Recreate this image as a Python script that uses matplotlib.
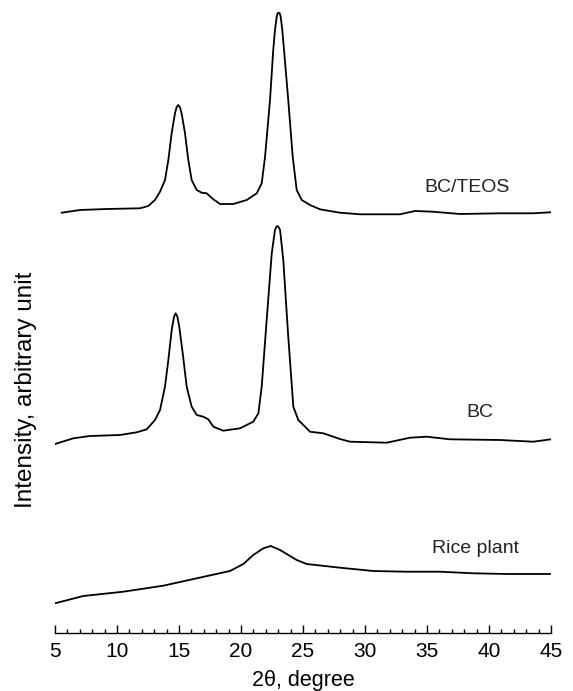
import matplotlib
matplotlib.use('Agg')
import matplotlib.pyplot as plt
from matplotlib.ticker import MultipleLocator

plt.rcParams['font.family'] = ['Liberation Sans', 'DejaVu Sans']

# --- XRD patterns (2theta in degrees, intensity in arbitrary units) ---
teos_2theta = [5.54, 7.02, 9.17, 11.85, 12.52, 13.06, 13.47, 13.87, 14.14, 14.41,
               14.68, 14.81, 14.94, 15.08, 15.22, 15.48, 15.75, 16.02, 16.43, 16.83,
               17.23, 17.77, 18.31, 19.38, 20.46, 21.27, 21.67, 21.94, 22.34, 22.60,
               22.74, 22.88, 22.96, 23.04, 23.12, 23.20, 23.33, 23.47, 23.81, 24.17,
               24.49, 24.90, 25.56, 26.37, 27.98, 29.60, 32.82, 34.03, 35.48, 37.66,
               40.89, 43.55, 44.95]
teos_int = [427.3, 430, 431, 431.7, 434, 440, 448.3, 460, 480, 507,
            527, 533, 535, 532.7, 526, 507, 480, 460, 450, 447.3,
            446.7, 440.7, 436, 436, 440, 446.7, 456.7, 483.3, 540, 590,
            610, 623.3, 626.7, 627.3, 626.7, 623.3, 610, 590, 540, 483.3,
            450, 440, 435, 430.7, 427.3, 425.7, 425.7, 429, 428.3, 426,
            426.7, 426.7, 427.7]

bc_2theta = [5.0, 6.48, 7.82, 10.24, 11.59, 12.40, 13.06, 13.47, 13.87, 14.14,
             14.41, 14.60, 14.73, 14.87, 15.02, 15.30, 15.62, 16.02, 16.43, 16.96,
             17.36, 17.77, 18.57, 19.92, 20.99, 21.40, 21.67, 22.07, 22.48, 22.74,
             22.84, 22.93, 23.03, 23.15, 23.41, 23.81, 24.22, 24.62, 25.30, 25.56,
             26.64, 27.98, 28.79, 31.75, 33.63, 34.98, 36.85, 40.89, 43.57, 45.0]
bc_int = [196, 201.7, 204, 205, 207.7, 210.7, 220, 230, 253.3, 280,
          310, 323.3, 326.7, 323.3, 313.3, 286.7, 253.3, 233.3, 225, 223.3,
          220.7, 213.3, 209.3, 211.7, 218.3, 226.7, 253.3, 320, 386.7, 410,
          413, 414, 413, 410, 380, 303.3, 233.3, 220, 211.7, 208.3,
          206.7, 201, 198.3, 197.3, 202.3, 203.3, 200.7, 200, 198.3, 200.7]

rice_2theta = [5.0, 7.28, 10.51, 13.73, 16.43, 19.11, 20.19, 20.99, 21.80, 22.40,
               23.15, 24.49, 25.30, 27.98, 30.67, 33.36, 36.05, 38.73, 41.43, 44.92]
rice_int = [36.7, 44, 48.3, 54.3, 61.7, 69, 76, 85, 91.7, 94,
            90, 80, 76, 72.3, 69, 68.3, 68.3, 66.7, 66, 66]

labels = ['BC/TEOS', 'BC', 'Rice plant']
label_pos = [(38.23, 453), (39.27, 228), (38.95, 92)]

fig = plt.figure(figsize=(5.73, 6.91), dpi=100)
ax = fig.add_axes([0.096, 0.0835, 0.8656, 0.9165])

for xs, ys in [(teos_2theta, teos_int), (bc_2theta, bc_int), (rice_2theta, rice_int)]:
    ax.plot(xs, ys, color='black', linewidth=1.3, solid_joinstyle='round')

for text, (tx, ty) in zip(labels, label_pos):
    ax.text(tx, ty, text, fontsize=14, ha='center', va='center', color='#222222')

ax.set_xlim(5, 45)
ax.set_ylim(6.7, 640)
for side in ['left', 'right', 'top']:
    ax.spines[side].set_visible(False)
ax.spines['bottom'].set_linewidth(1.0)
ax.set_yticks([])
ax.xaxis.set_major_locator(MultipleLocator(5))
ax.xaxis.set_minor_locator(MultipleLocator(1))
ax.tick_params(axis='x', which='major', direction='in', length=6, width=1.0,
               labelsize=15, pad=6)
ax.tick_params(axis='x', which='minor', direction='in', length=3, width=1.0)

ax.set_xlabel('2θ, degree', fontsize=15.5, labelpad=7)
ax.set_ylabel('Intensity, arbitrary unit', fontsize=17.5)
ax.yaxis.set_label_coords(-0.036, 0.384)

fig.savefig('out.png', dpi=100)
